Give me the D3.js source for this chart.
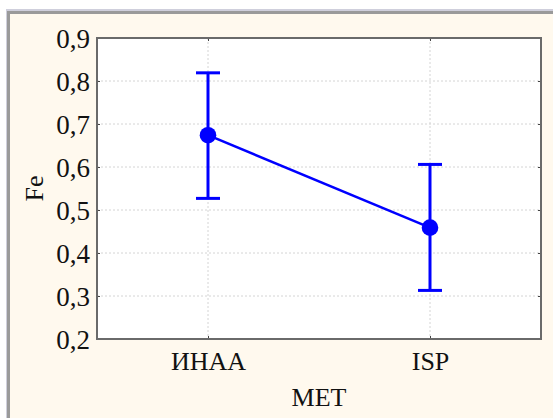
<!DOCTYPE html>
<html>
<head>
<meta charset="utf-8">
<script src="https://cdn.jsdelivr.net/npm/d3@7"></script>
<style>
  html, body { margin: 0; padding: 0; background: #ffffff; }
  svg { display: block; }
  text { font-family: "Liberation Serif", "DejaVu Serif", serif; fill: #111; }
</style>
</head>
<body>
<svg id="chart" width="553" height="418"></svg>
<script>
// Fe content by method: mean with lower/upper interval bounds
const categories = ["ИНАА", "ISP"];
const means = [0.674, 0.459];
const lowers = [0.527, 0.313];
const uppers = [0.819, 0.606];
const yTicks = [0.2, 0.3, 0.4, 0.5, 0.6, 0.7, 0.8, 0.9];

const W = 553, H = 418;
const margin = { left: 97, top: 38, right: 12, bottom: 79 };
const pw = W - margin.left - margin.right;
const ph = H - margin.top - margin.bottom;

const svg = d3.select("#chart");

// outer panel
svg.append("rect").attr("x", 6).attr("y", 9).attr("width", W - 6).attr("height", H - 9)
  .attr("fill", "#cfcfdc");
svg.append("rect").attr("x", 7).attr("y", 11).attr("width", W - 7).attr("height", H - 11)
  .attr("fill", "#9a9a9a");
svg.append("rect").attr("x", 10).attr("y", 14).attr("width", W - 10).attr("height", H - 14)
  .attr("fill", "#fff9ee");

const g = svg.append("g").attr("transform", `translate(${margin.left},${margin.top})`);

const x = d3.scalePoint().domain(categories).range([0, pw]).padding(0.5);
const y = d3.scaleLinear().domain([0.2, 0.9]).range([ph, 0]);
const fmt = d => d3.format(".1f")(d).replace(".", ",");

// plot background
g.append("rect").attr("width", pw).attr("height", ph).attr("fill", "#ffffff");

// dotted grid
g.append("g").selectAll("line").data(yTicks.slice(1, -1)).join("line")
  .attr("x1", 0).attr("x2", pw).attr("y1", d => y(d)).attr("y2", d => y(d))
  .attr("stroke", "#d4d4d4").attr("stroke-width", 1).attr("stroke-dasharray", "2,2");
g.append("g").selectAll("line").data(categories).join("line")
  .attr("x1", d => x(d)).attr("x2", d => x(d)).attr("y1", 0).attr("y2", ph)
  .attr("stroke", "#d4d4d4").attr("stroke-width", 1).attr("stroke-dasharray", "2,2");

// axes
const yAxis = g.append("g").call(d3.axisLeft(y).tickValues(yTicks).tickFormat(fmt).tickSize(-3).tickPadding(7));
const yAxisR = g.append("g").attr("transform", `translate(${pw},0)`)
  .call(d3.axisRight(y).tickValues(yTicks).tickFormat("").tickSize(-3));
const xAxis = g.append("g").attr("transform", `translate(0,${ph})`)
  .call(d3.axisBottom(x).tickSize(-3).tickPadding(13));
const xAxisT = g.append("g")
  .call(d3.axisTop(x).tickFormat("").tickSize(-3));
[yAxis, yAxisR, xAxis, xAxisT].forEach(a => {
  a.attr("font-family", null).attr("font-size", null);
  a.select(".domain").remove();
  a.selectAll(".tick line").attr("stroke", "#444").attr("stroke-width", 1);
});
yAxis.selectAll("text").style("font-size", "27px").attr("fill", "#111").attr("dy", "0.36em");
xAxis.selectAll("text").style("font-size", "26px").attr("fill", "#111").attr("dy", "0.7em");

// plot frame
g.append("rect").attr("width", pw).attr("height", ph)
  .attr("fill", "none").attr("stroke", "#6a6a6a").attr("stroke-width", 2);

// axis titles
svg.append("text").attr("x", margin.left + pw / 2).attr("y", 406)
  .attr("text-anchor", "middle").style("font-size", "26px").text("MET");
svg.append("text").attr("transform", `translate(43,${margin.top + ph / 2}) rotate(-90)`)
  .attr("text-anchor", "middle").style("font-size", "26px").text("Fe");

// series
const blue = "#0000ff";
const pts = categories.map((c, i) => ({ c, m: means[i], lo: lowers[i], hi: uppers[i] }));

g.append("path").datum(pts)
  .attr("d", d3.line().x(d => x(d.c)).y(d => y(d.m)))
  .attr("fill", "none").attr("stroke", blue).attr("stroke-width", 2.5);

const eb = g.append("g").selectAll("g").data(pts).join("g");
eb.append("line").attr("x1", d => x(d.c)).attr("x2", d => x(d.c))
  .attr("y1", d => y(d.lo)).attr("y2", d => y(d.hi))
  .attr("stroke", blue).attr("stroke-width", 3);
eb.append("line").attr("x1", d => x(d.c) - 12).attr("x2", d => x(d.c) + 12)
  .attr("y1", d => y(d.hi)).attr("y2", d => y(d.hi))
  .attr("stroke", blue).attr("stroke-width", 3);
eb.append("line").attr("x1", d => x(d.c) - 12).attr("x2", d => x(d.c) + 12)
  .attr("y1", d => y(d.lo)).attr("y2", d => y(d.lo))
  .attr("stroke", blue).attr("stroke-width", 3);
eb.append("circle").attr("cx", d => x(d.c)).attr("cy", d => y(d.m)).attr("r", 8.3)
  .attr("fill", blue);
</script>
</body>
</html>
